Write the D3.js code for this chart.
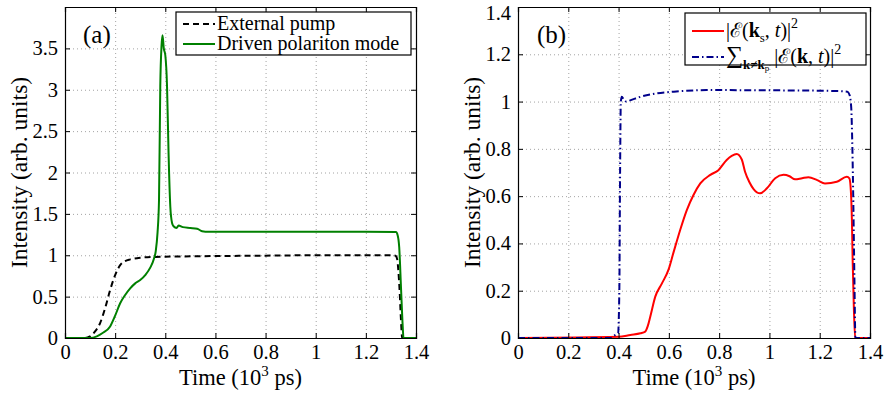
<!DOCTYPE html>
<meta charset="utf-8">
<script src="https://d3js.org/d3.v7.min.js"></script>
<style>
  body { margin: 0; background: #fff; }
  svg text { font-family: "Liberation Serif", "DejaVu Serif", serif; fill: #000; }
</style>
<div id="my_dataviz"></div>
<script>

// ---- data (time in 10^3 ps, intensity in arb. units) ----
var pumpT = [0, 0.08, 0.1, 0.12, 0.14, 0.16, 0.18, 0.2, 0.22, 0.24, 0.26, 0.3, 0.36, 0.45, 0.6, 0.8, 1.0, 1.2, 1.31, 1.32, 1.325, 1.33, 1.335, 1.34, 1.345, 1.4];
var pumpV = [0, 0, 0.02, 0.08, 0.18, 0.36, 0.58, 0.76, 0.88, 0.93, 0.95, 0.97, 0.98, 0.985, 0.99, 0.995, 1.0, 1.0, 1.0, 0.99, 0.95, 0.8, 0.55, 0.22, 0, 0];

var modeT = [0, 0.1, 0.127, 0.15, 0.18, 0.2, 0.22, 0.24, 0.26, 0.28, 0.3, 0.32, 0.34, 0.355, 0.362, 0.369, 0.375, 0.38, 0.385, 0.389, 0.394, 0.4, 0.407, 0.413, 0.42, 0.427, 0.433, 0.445, 0.453, 0.47, 0.5, 0.527, 0.547, 0.56, 0.8, 1.0, 1.2, 1.32, 1.327, 1.333, 1.34, 1.347, 1.35, 1.4];
var modeV = [0, 0, 0.02, 0.06, 0.14, 0.27, 0.42, 0.52, 0.6, 0.66, 0.7, 0.76, 0.85, 0.96, 1.05, 1.27, 1.67, 3.04, 3.53, 3.66, 3.5, 3.42, 3.04, 2.24, 1.59, 1.39, 1.35, 1.33, 1.36, 1.34, 1.33, 1.32, 1.29, 1.285, 1.285, 1.285, 1.285, 1.28, 1.24, 1.1, 0.62, 0.14, 0, 0];

var signalT = [0, 0.4, 0.447, 0.487, 0.506, 0.516, 0.526, 0.546, 0.572, 0.599, 0.618, 0.645, 0.671, 0.698, 0.725, 0.765, 0.797, 0.83, 0.85, 0.87, 0.89, 0.903, 0.92, 0.937, 0.963, 0.99, 1.023, 1.056, 1.08, 1.102, 1.13, 1.155, 1.19, 1.221, 1.268, 1.308, 1.318, 1.324, 1.328, 1.331, 1.336, 1.341, 1.4];
var signalV = [0, 0.005, 0.013, 0.02, 0.027, 0.05, 0.09, 0.175, 0.23, 0.29, 0.36, 0.457, 0.54, 0.605, 0.654, 0.69, 0.71, 0.753, 0.77, 0.778, 0.755, 0.703, 0.66, 0.63, 0.612, 0.633, 0.676, 0.69, 0.684, 0.671, 0.676, 0.68, 0.668, 0.654, 0.661, 0.682, 0.675, 0.62, 0.5, 0.33, 0.12, 0, 0];

var sumT = [0, 0.37, 0.382, 0.39, 0.398, 0.403, 0.406, 0.409, 0.413, 0.42, 0.43, 0.446, 0.486, 0.552, 0.62, 0.7, 0.75, 0.9, 1.1, 1.25, 1.31, 1.318, 1.325, 1.33, 1.334, 1.338, 1.342, 1.4];
var sumV = [0, 0, 0.01, 0.015, 0.02, 0.2, 0.7, 1.0, 1.02, 1.01, 1.0, 1.005, 1.02, 1.035, 1.042, 1.047, 1.049, 1.048, 1.047, 1.045, 1.042, 1.03, 0.98, 0.8, 0.55, 0.25, 0, 0];

var xTicks = [0, 0.2, 0.4, 0.6, 0.8, 1, 1.2, 1.4];
var yTicksA = [0, 0.5, 1, 1.5, 2, 2.5, 3, 3.5];
var yTicksB = [0, 0.2, 0.4, 0.6, 0.8, 1, 1.2, 1.4];

var serif = "Liberation Serif, DejaVu Serif, serif";

function zip(t, v) { return t.map(function (d, i) { return [d, v[i]]; }); }

var svg = d3.select("#my_dataviz")
  .append("svg")
  .attr("width", 885)
  .attr("height", 394)
  .attr("font-family", serif);

var fmt = function (d) { return String(+d.toFixed(2)); };

function drawPanel(opt) {
  var width = opt.right - opt.left,
      height = opt.bottom - opt.top;

  var g = svg.append("g")
    .attr("transform", "translate(" + opt.left + "," + opt.top + ")");

  var x = d3.scaleLinear().domain([0, 1.4]).range([0, width]);
  var y = d3.scaleLinear().domain(opt.yDomain).range([height, 0]);

  // grid
  g.append("g")
    .attr("class", "grid")
    .attr("transform", "translate(0," + height + ")")
    .call(d3.axisBottom(x).tickValues(xTicks).tickSize(-height).tickFormat(""));
  g.append("g")
    .attr("class", "grid")
    .call(d3.axisLeft(y).tickValues(opt.yTicks).tickSize(-width).tickFormat(""));
  g.selectAll(".grid .domain").remove();
  g.selectAll(".grid line")
    .attr("stroke", "#8c8c8c")
    .attr("stroke-width", 0.8)
    .attr("stroke-dasharray", "1,3");

  // curves
  var line = d3.line()
    .x(function (d) { return x(d[0]); })
    .y(function (d) { return y(d[1]); })
    .curve(d3.curveMonotoneX);

  opt.series.forEach(function (s) {
    g.append("path")
      .datum(s.data)
      .attr("fill", "none")
      .attr("stroke", s.color)
      .attr("stroke-width", 2)
      .attr("stroke-dasharray", s.dash)
      .attr("d", line);
  });

  // axes (ticks inside, box on all sides)
  g.append("g")
    .attr("class", "ax")
    .attr("transform", "translate(0," + height + ")")
    .call(d3.axisBottom(x).tickValues(xTicks).tickSize(-5).tickPadding(6).tickFormat(fmt));
  var yAxis = g.append("g")
    .attr("class", "ax")
    .call(d3.axisLeft(y).tickValues(opt.yTicks).tickSize(-5).tickPadding(7).tickFormat(fmt));
  g.append("g")
    .attr("class", "ax")
    .call(d3.axisTop(x).tickValues(xTicks).tickSize(-5).tickFormat(""));
  g.append("g")
    .attr("class", "ax")
    .attr("transform", "translate(" + width + ",0)")
    .call(d3.axisRight(y).tickValues(opt.yTicks).tickSize(-5).tickFormat(""));

  g.selectAll(".ax")
    .attr("font-family", serif)
    .attr("font-size", 20.5);
  g.selectAll(".ax .domain").attr("stroke", "#000").attr("stroke-width", 1.2);
  g.selectAll(".ax .tick line").attr("stroke", "#000");
  g.selectAll(".ax .tick text").attr("fill", "#000");
  // top y label sits a little lower so it stays inside the page
  yAxis.selectAll(".tick text")
    .filter(function (d) { return y(d) < 8; })
    .attr("dy", "0.6em");

  // axis titles
  var xl = g.append("text")
    .attr("x", width / 2)
    .attr("y", height + 47)
    .attr("text-anchor", "middle")
    .style("font-size", "22.5px");
  xl.append("tspan").text("Time (10");
  xl.append("tspan").attr("dy", -9).style("font-size", "15px").text("3");
  xl.append("tspan").attr("dy", 9).text(" ps)");

  g.append("text")
    .attr("transform", "rotate(-90)")
    .attr("x", -height / 2)
    .attr("y", opt.yLabelX)
    .attr("text-anchor", "middle")
    .attr("dy", "0.35em")
    .style("font-size", "23.5px")
    .text("Intensity (arb. units)");

  // panel label
  g.append("text")
    .attr("x", opt.tagX)
    .attr("y", 36)
    .style("font-size", "25px")
    .text(opt.tag);

  // legend
  var lg = g.append("g")
    .attr("transform", "translate(" + opt.legend.x + "," + opt.legend.y + ")");
  lg.append("rect")
    .attr("width", opt.legend.w)
    .attr("height", opt.legend.h)
    .attr("fill", "#fff")
    .attr("stroke", "#000")
    .attr("stroke-width", 1.2);

  opt.series.forEach(function (s, i) {
    var rowY = opt.legend.rows[i];
    lg.append("line")
      .attr("x1", 7).attr("x2", 39)
      .attr("y1", rowY).attr("y2", rowY)
      .attr("stroke", s.color)
      .attr("stroke-width", 2)
      .attr("stroke-dasharray", s.dash);
    var t = lg.append("text")
      .attr("x", 41)
      .attr("y", rowY + 6)
      .style("font-size", "20px");
    s.label(t);
  });
}

function bold(t, s) { return t.append("tspan").style("font-weight", "bold").text(s); }

drawPanel({
  left: 65, right: 416, top: 7, bottom: 338,
  yDomain: [0, 4], yTicks: yTicksA,
  yLabelX: -46, tag: "(a)", tagX: 18,
  legend: { x: 111, y: 5, w: 235, h: 43, rows: [12, 32] },
  series: [
    { data: zip(pumpT, pumpV), color: "#000", dash: "6,4",
      label: function (t) { t.text("External pump"); } },
    { data: zip(modeT, modeV), color: "#008000", dash: null,
      label: function (t) { t.text("Driven polariton mode"); } }
  ]
});

drawPanel({
  left: 518, right: 870, top: 7, bottom: 338,
  yDomain: [0, 1.4], yTicks: yTicksB,
  yLabelX: -46, tag: "(b)", tagX: 19,
  legend: { x: 167, y: 6, w: 181, h: 52, rows: [18, 44] },
  series: [
    { data: zip(signalT, signalV), color: "#ff0000", dash: null,
      label: function (t) {
        t.append("tspan").text("|ℰ(");
        bold(t, "k");
        t.append("tspan").attr("dy", 5).style("font-size", "13px").text("s");
        t.append("tspan").attr("dy", -5).text(", ");
        t.append("tspan").style("font-style", "italic").text("t");
        t.append("tspan").text(")|");
        t.append("tspan").attr("dy", -9).style("font-size", "14px").text("2");
      } },
    { data: zip(sumT, sumV), color: "#00008b", dash: "7,3,1.5,3",
      label: function (t) {
        t.append("tspan").style("font-size", "24px").text("∑");
        t.append("tspan").attr("dy", 6).style("font-size", "13px").style("font-weight", "bold").text("k≠k");
        t.append("tspan").attr("dy", 2).style("font-size", "9px").text("p");
        t.append("tspan").attr("dy", -8).text(" |ℰ(");
        bold(t, "k");
        t.append("tspan").text(", ");
        t.append("tspan").style("font-style", "italic").text("t");
        t.append("tspan").text(")|");
        t.append("tspan").attr("dy", -9).style("font-size", "14px").text("2");
      } }
  ]
});

</script>
